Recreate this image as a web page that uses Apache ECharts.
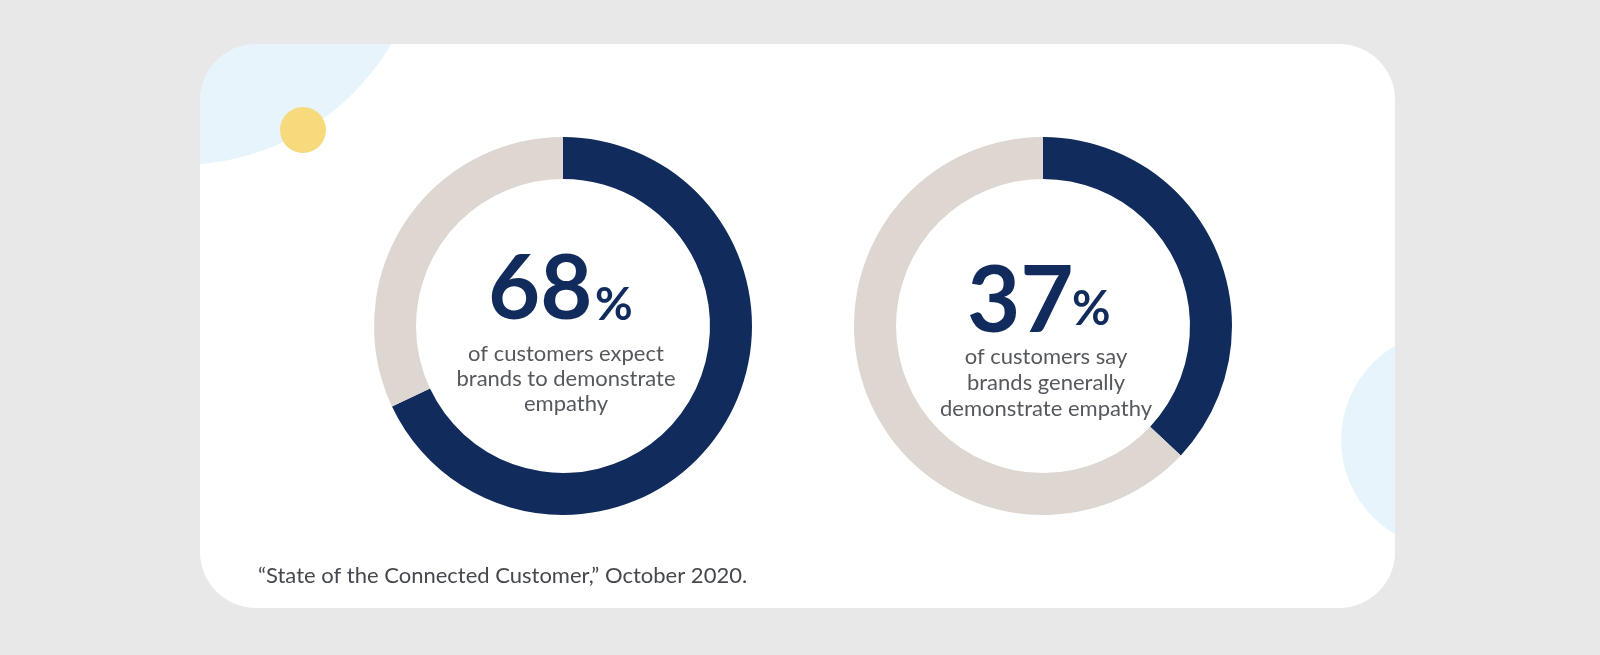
<!DOCTYPE html>
<html>
<head>
<meta charset="utf-8">
<script src="https://cdn.jsdelivr.net/npm/echarts@6/dist/echarts.min.js"></script>
<style>
  html, body { margin: 0; padding: 0; background: #e8e8e8; }
  #chart { width: 1600px; height: 655px; }
</style>
</head>
<body>
<div id="chart"></div>
<script>
// ---- data ----
const shares = [68, 37];
const rest = shares.map(v => 100 - v);
const captions = [
  ['of customers expect', 'brands to demonstrate', 'empathy'],
  ['of customers say', 'brands generally', 'demonstrate empathy']
];
const sourceNote = '\u201CState of the Connected Customer,\u201D October 2020.';

// ---- layout / style ----
const NAVY = '#112b5c';
const RING = '#ddd6d1';
const GREY_TXT = '#55585c';
const BG = '#e8e8e8';
const LBLUE = '#e7f4fc';
const card = { x: 200, y: 44, w: 1195, h: 564, r: 56 };
const centers = [[563, 326], [1043, 326]];
const radii = [147, 189];

const chart = echarts.init(document.getElementById('chart'));

const X = card.x, Y = card.y, W = card.w, H = card.h, R = card.r;
const graphics = [
  { type: 'rect', z: 0, silent: true, shape: { x: X, y: Y, width: W, height: H }, style: { fill: '#ffffff' } },
  { type: 'circle', z: 1, silent: true, shape: { cx: 180, cy: -80, r: 245 }, style: { fill: LBLUE } },
  { type: 'circle', z: 1, silent: true, shape: { cx: 1450, cy: 440, r: 109 }, style: { fill: LBLUE } },
  // grey frame outside the card
  { type: 'rect', z: 2, silent: true, shape: { x: 0, y: 0, width: 1600, height: Y }, style: { fill: BG } },
  { type: 'rect', z: 2, silent: true, shape: { x: 0, y: Y + H, width: 1600, height: 655 - Y - H }, style: { fill: BG } },
  { type: 'rect', z: 2, silent: true, shape: { x: 0, y: 0, width: X, height: 655 }, style: { fill: BG } },
  { type: 'rect', z: 2, silent: true, shape: { x: X + W, y: 0, width: 1600 - X - W, height: 655 }, style: { fill: BG } },
  // rounded corners: grey squares, then quarter discs of the inner colour
  { type: 'rect', z: 2, silent: true, shape: { x: X, y: Y, width: R, height: R }, style: { fill: BG } },
  { type: 'rect', z: 2, silent: true, shape: { x: X + W - R, y: Y, width: R, height: R }, style: { fill: BG } },
  { type: 'rect', z: 2, silent: true, shape: { x: X, y: Y + H - R, width: R, height: R }, style: { fill: BG } },
  { type: 'rect', z: 2, silent: true, shape: { x: X + W - R, y: Y + H - R, width: R, height: R }, style: { fill: BG } },
  { type: 'sector', z: 3, silent: true, shape: { cx: X + R, cy: Y + R, r: R, r0: 0, startAngle: Math.PI, endAngle: Math.PI * 1.5 }, style: { fill: LBLUE } },
  { type: 'sector', z: 3, silent: true, shape: { cx: X + W - R, cy: Y + R, r: R, r0: 0, startAngle: Math.PI * 1.5, endAngle: Math.PI * 2 }, style: { fill: '#ffffff' } },
  { type: 'sector', z: 3, silent: true, shape: { cx: X + R, cy: Y + H - R, r: R, r0: 0, startAngle: Math.PI * 0.5, endAngle: Math.PI }, style: { fill: '#ffffff' } },
  { type: 'sector', z: 3, silent: true, shape: { cx: X + W - R, cy: Y + H - R, r: R, r0: 0, startAngle: 0, endAngle: Math.PI * 0.5 }, style: { fill: '#ffffff' } },
  { type: 'circle', z: 4, silent: true, shape: { cx: 303, cy: 130, r: 23 }, style: { fill: '#f6da7c' } },
  { type: 'text', z: 20, silent: true, x: 258, y: 576,
    style: { text: sourceNote, font: '22px Lato', fill: '#45484c', verticalAlign: 'middle', align: 'left' } }
];

// big numbers and captions
const bigCfg = [
  { numX: 488, pctX: 595, numY: 290, pctY: 305, numSize: 90, pctSize: 46, capY: [354, 379, 404], capX: 566 },
  { numX: 967, pctX: 1072, numY: 302, pctY: 310, numSize: 92, pctSize: 47, capY: [357, 383, 409], capX: 1046 }
];
shares.forEach((v, i) => {
  const c = bigCfg[i];
  graphics.push({ type: 'text', z: 20, silent: true, x: c.numX, y: c.numY,
    style: { text: String(v), font: 'bold ' + c.numSize + 'px Lato', fill: NAVY, align: 'left', verticalAlign: 'middle' } });
  graphics.push({ type: 'text', z: 20, silent: true, x: c.pctX, y: c.pctY,
    style: { text: '%', font: 'bold ' + c.pctSize + 'px Lato', fill: NAVY, align: 'left', verticalAlign: 'middle' } });
  captions[i].forEach((line, k) => {
    graphics.push({ type: 'text', z: 20, silent: true, x: c.capX, y: c.capY[k],
      style: { text: line, font: '22px Lato', fill: GREY_TXT, align: 'center', verticalAlign: 'middle' } });
  });
});

const series = shares.map((v, i) => ({
  type: 'pie',
  z: 10,
  center: centers[i],
  radius: radii,
  startAngle: 90,
  clockwise: true,
  silent: true,
  animation: false,
  label: { show: false },
  labelLine: { show: false },
  itemStyle: { borderWidth: 0 },
  data: [
    { value: v, name: 'yes', itemStyle: { color: NAVY } },
    { value: rest[i], name: 'no', itemStyle: { color: RING } }
  ]
}));

chart.setOption({
  backgroundColor: BG,
  animation: false,
  graphic: graphics,
  series: series
});
</script>
</body>
</html>
